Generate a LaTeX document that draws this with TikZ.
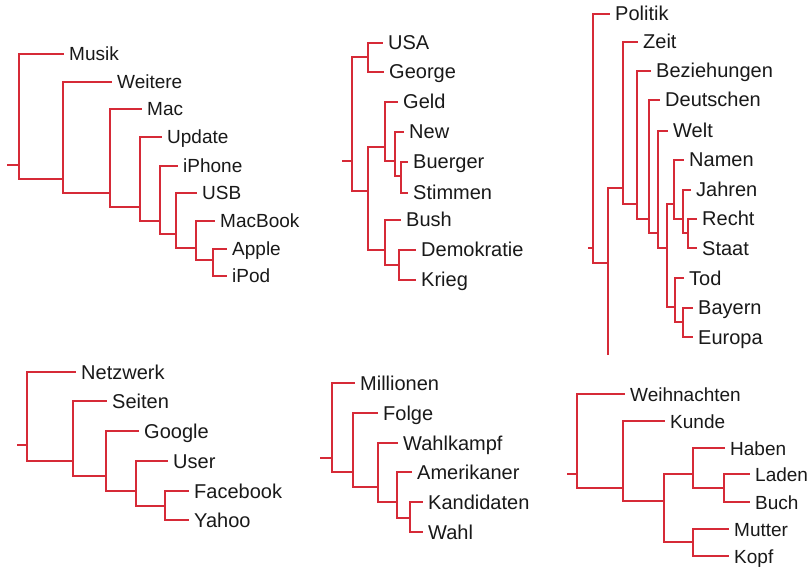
\documentclass[tikz,border=0pt]{standalone}
\usepackage{fontspec}
\setmainfont{Liberation Sans}
\definecolor{dred}{RGB}{214,42,55}
\definecolor{ink}{RGB}{25,25,25}
\begin{document}
\begin{tikzpicture}[x=1pt,y=-1pt,
  lbl/.style={anchor=west,inner xsep=5pt,inner ysep=0pt,text=ink,
    font=\fontsize{19}{22}\selectfont,text height=14pt,text depth=0pt},
  lblb/.style={lbl,font=\fontsize{20}{23}\selectfont},
  br/.style={draw=dred,line width=1.4pt}]
\fill[white] (0,0) rectangle (807,567);
\useasboundingbox (0,0) rectangle (807,567);
% ---------- panel 1 ----------
\node[lbl] (musik) at (64,54) {Musik};
\node[lbl] (weitere) at (112,82) {Weitere};
\node[lbl] (mac) at (142,109) {Mac};
\node[lbl] (update) at (162,137) {Update};
\node[lbl] (iphone) at (178,166) {iPhone};
\node[lbl] (usb) at (197,193) {USB};
\node[lbl] (macbook) at (215,221) {MacBook};
\node[lbl] (apple) at (227,249) {Apple};
\node[lbl] (ipod) at (227,276) {iPod};
\coordinate (r1) at (7,165);
\coordinate (A1) at (19,165);
\coordinate (A2) at (63,179);
\coordinate (A3) at (110,193);
\coordinate (A4) at (140,207);
\coordinate (A5) at (160,221);
\coordinate (A6) at (176,234);
\coordinate (A7) at (196,248);
\coordinate (A8) at (213,260);
\draw[br] (r1) -- (A1);
\draw[br] (A1) |- (musik); \draw[br] (A1) |- (A2);
\draw[br] (A2) |- (weitere); \draw[br] (A2) |- (A3);
\draw[br] (A3) |- (mac); \draw[br] (A3) |- (A4);
\draw[br] (A4) |- (update); \draw[br] (A4) |- (A5);
\draw[br] (A5) |- (iphone); \draw[br] (A5) |- (A6);
\draw[br] (A6) |- (usb); \draw[br] (A6) |- (A7);
\draw[br] (A7) |- (macbook); \draw[br] (A7) |- (A8);
\draw[br] (A8) |- (apple); \draw[br] (A8) |- (ipod);
% ---------- panel 2 ----------
\node[lblb] (usa) at (383,43) {USA};
\node[lblb] (george) at (384,72) {George};
\node[lblb] (geld) at (398,102) {Geld};
\node[lblb] (new) at (404,132) {New};
\node[lblb] (buerger) at (408,162) {Buerger};
\node[lblb] (stimmen) at (408,193) {Stimmen};
\node[lblb] (bush) at (401,220) {Bush};
\node[lblb] (demokratie) at (416,250) {Demokratie};
\node[lblb] (krieg) at (416,280) {Krieg};
\coordinate (r2) at (342,161);
\coordinate (B1) at (352,161);
\coordinate (B2) at (368,57);
\coordinate (B3) at (368,191);
\coordinate (B4) at (385,147);
\coordinate (B5) at (395,161);
\coordinate (B6) at (401,176);
\coordinate (B7) at (385,250);
\coordinate (B8) at (399,265);
\draw[br] (r2) -- (B1);
\draw[br] (B1) |- (B2); \draw[br] (B1) |- (B3);
\draw[br] (B2) |- (usa); \draw[br] (B2) |- (george);
\draw[br] (B3) |- (B4); \draw[br] (B3) |- (B7);
\draw[br] (B4) |- (geld); \draw[br] (B4) |- (B5);
\draw[br] (B5) |- (new); \draw[br] (B5) |- (B6);
\draw[br] (B6) |- (buerger); \draw[br] (B6) |- (stimmen);
\draw[br] (B7) |- (bush); \draw[br] (B7) |- (B8);
\draw[br] (B8) |- (demokratie); \draw[br] (B8) |- (krieg);
% ---------- panel 3 ----------
\node[lblb] (politik) at (610,14) {Politik};
\node[lblb] (zeit) at (638,42) {Zeit};
\node[lblb] (beziehungen) at (651,71) {Beziehungen};
\node[lblb] (deutschen) at (660,100) {Deutschen};
\node[lblb] (welt) at (668,131) {Welt};
\node[lblb] (namen) at (684,160) {Namen};
\node[lblb] (jahren) at (691,190) {Jahren};
\node[lblb] (recht) at (697,219) {Recht};
\node[lblb] (staat) at (697,248) {Staat};
\node[lblb] (tod) at (684,278) {Tod};
\node[lblb] (bayern) at (693,308) {Bayern};
\node[lblb] (europa) at (693,337) {Europa};
\coordinate (r3) at (588,248);
\coordinate (C1) at (593,248);
\coordinate (C2) at (608,263);
\coordinate (Cend) at (608,355);
\coordinate (C3) at (623,188);
\coordinate (C4) at (637,204);
\coordinate (C5) at (649,219);
\coordinate (C6) at (658,233);
\coordinate (C7) at (667,248);
\coordinate (C8) at (674,204);
\coordinate (C9) at (683,219);
\coordinate (C9b) at (688,233);
\coordinate (C10) at (675,307);
\coordinate (C11) at (683,322);
\draw[br] (r3) -- (C1);
\draw[br] (C1) |- (politik); \draw[br] (C1) |- (C2);
\draw[br] (C2) |- (C3); \draw[br] (C2) -- (Cend);
\draw[br] (C3) |- (zeit); \draw[br] (C3) |- (C4);
\draw[br] (C4) |- (beziehungen); \draw[br] (C4) |- (C5);
\draw[br] (C5) |- (deutschen); \draw[br] (C5) |- (C6);
\draw[br] (C6) |- (welt); \draw[br] (C6) |- (C7);
\draw[br] (C7) |- (C8); \draw[br] (C7) |- (C10);
\draw[br] (C8) |- (namen); \draw[br] (C8) |- (C9);
\draw[br] (C9) |- (jahren); \draw[br] (C9) |- (C9b);
\draw[br] (C9b) |- (recht); \draw[br] (C9b) |- (staat);
\draw[br] (C10) |- (tod); \draw[br] (C10) |- (C11);
\draw[br] (C11) |- (bayern); \draw[br] (C11) |- (europa);
% ---------- panel 4 ----------
\node[lblb] (netzwerk) at (76,372) {Netzwerk};
\node[lblb] (seiten) at (107,401) {Seiten};
\node[lblb] (google) at (139,431) {Google};
\node[lblb] (user) at (168,461) {User};
\node[lblb] (facebook) at (189,491) {Facebook};
\node[lblb] (yahoo) at (189,520) {Yahoo};
\coordinate (r4) at (17,445);
\coordinate (D1) at (27,445);
\coordinate (D2) at (73,461);
\coordinate (D3) at (106,476);
\coordinate (D4) at (136,491);
\coordinate (D5) at (165,506);
\draw[br] (r4) -- (D1);
\draw[br] (D1) |- (netzwerk); \draw[br] (D1) |- (D2);
\draw[br] (D2) |- (seiten); \draw[br] (D2) |- (D3);
\draw[br] (D3) |- (google); \draw[br] (D3) |- (D4);
\draw[br] (D4) |- (user); \draw[br] (D4) |- (D5);
\draw[br] (D5) |- (facebook); \draw[br] (D5) |- (yahoo);
% ---------- panel 5 ----------
\node[lblb] (millionen) at (355,383) {Millionen};
\node[lblb] (folge) at (378,413) {Folge};
\node[lblb] (wahlkampf) at (398,443) {Wahlkampf};
\node[lblb] (amerikaner) at (412,472) {Amerikaner};
\node[lblb] (kandidaten) at (423,502) {Kandidaten};
\node[lblb] (wahl) at (423,532) {Wahl};
\coordinate (r5) at (320,458);
\coordinate (E1) at (332,458);
\coordinate (E2) at (353,472);
\coordinate (E3) at (378,487);
\coordinate (E4) at (397,502);
\coordinate (E5) at (410,518);
\draw[br] (r5) -- (E1);
\draw[br] (E1) |- (millionen); \draw[br] (E1) |- (E2);
\draw[br] (E2) |- (folge); \draw[br] (E2) |- (E3);
\draw[br] (E3) |- (wahlkampf); \draw[br] (E3) |- (E4);
\draw[br] (E4) |- (amerikaner); \draw[br] (E4) |- (E5);
\draw[br] (E5) |- (kandidaten); \draw[br] (E5) |- (wahl);
% ---------- panel 6 ----------
\node[lbl] (weihnachten) at (625,394) {Weihnachten};
\node[lbl] (kunde) at (665,421) {Kunde};
\node[lbl] (haben) at (725,448) {Haben};
\node[lbl] (laden) at (750,474) {Laden};
\node[lbl] (buch) at (750,502) {Buch};
\node[lbl] (mutter) at (729,529) {Mutter};
\node[lbl] (kopf) at (729,556) {Kopf};
\coordinate (r6) at (567,474);
\coordinate (F1) at (577,474);
\coordinate (F2) at (623,488);
\coordinate (F3) at (664,501);
\coordinate (F4) at (693,474);
\coordinate (F5) at (724,488);
\coordinate (F6) at (693,542);
\draw[br] (r6) -- (F1);
\draw[br] (F1) |- (weihnachten); \draw[br] (F1) |- (F2);
\draw[br] (F2) |- (kunde); \draw[br] (F2) |- (F3);
\draw[br] (F3) |- (F4); \draw[br] (F3) |- (F6);
\draw[br] (F4) |- (haben); \draw[br] (F4) |- (F5);
\draw[br] (F5) |- (laden); \draw[br] (F5) |- (buch);
\draw[br] (F6) |- (mutter); \draw[br] (F6) |- (kopf);
\end{tikzpicture}
\end{document}
